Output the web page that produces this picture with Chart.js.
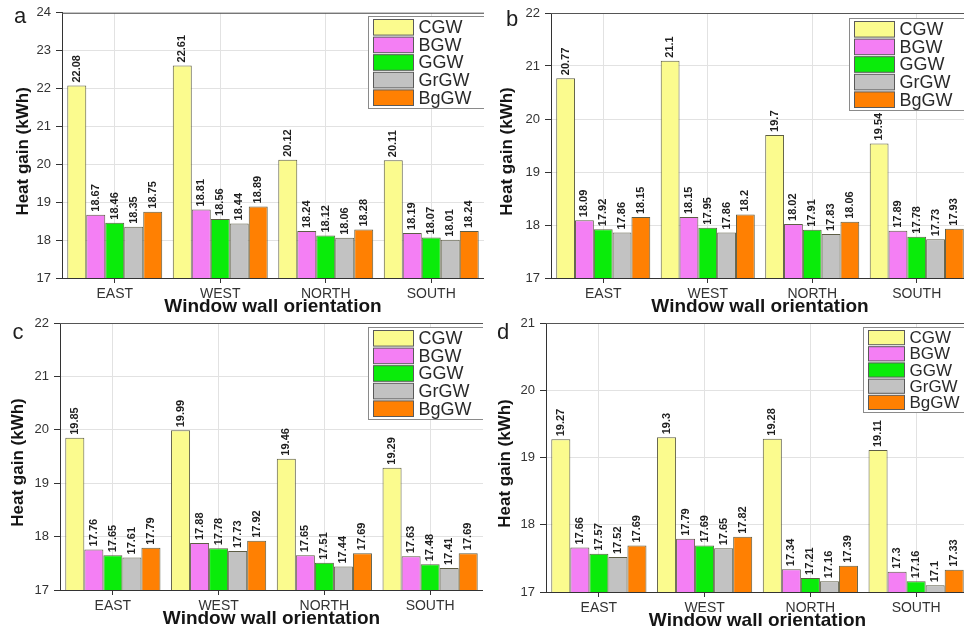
<!DOCTYPE html>
<html>
<head>
<meta charset="utf-8">
<script src="https://cdn.jsdelivr.net/npm/chart.js@4.4.0/dist/chart.umd.min.js"></script>
<style>
  html, body { margin: 0; padding: 0; background: #fff; width: 964px; height: 634px; overflow: hidden; }
  canvas { position: absolute; }
</style>
</head>
<body>
<canvas id="panelA" width="484" height="318" style="left:0px;top:0px"></canvas>
<canvas id="panelB" width="485" height="318" style="left:484px;top:0px"></canvas>
<canvas id="panelC" width="483" height="326" style="left:0px;top:308px"></canvas>
<canvas id="panelD" width="485" height="326" style="left:484px;top:308px"></canvas>
<script>
// Window wall orientations and glazing types
const orientations = ['EAST', 'WEST', 'NORTH', 'SOUTH'];
const glazingTypes = ['CGW', 'BGW', 'GGW', 'GrGW', 'BgGW'];

// Heat gain (kWh), panel a
const aCGW  = [22.08, 22.61, 20.12, 20.11];
const aBGW  = [18.67, 18.81, 18.24, 18.19];
const aGGW  = [18.46, 18.56, 18.12, 18.07];
const aGrGW = [18.35, 18.44, 18.06, 18.01];
const aBgGW = [18.75, 18.89, 18.28, 18.24];

// Heat gain (kWh), panel b
const bCGW  = [20.77, 21.1, 19.7, 19.54];
const bBGW  = [18.09, 18.15, 18.02, 17.89];
const bGGW  = [17.92, 17.95, 17.91, 17.78];
const bGrGW = [17.86, 17.86, 17.83, 17.73];
const bBgGW = [18.15, 18.2, 18.06, 17.93];

// Heat gain (kWh), panel c
const cCGW  = [19.85, 19.99, 19.46, 19.29];
const cBGW  = [17.76, 17.88, 17.65, 17.63];
const cGGW  = [17.65, 17.78, 17.51, 17.48];
const cGrGW = [17.61, 17.73, 17.44, 17.41];
const cBgGW = [17.79, 17.92, 17.69, 17.69];

// Heat gain (kWh), panel d
const dCGW  = [19.27, 19.3, 19.28, 19.11];
const dBGW  = [17.66, 17.79, 17.34, 17.3];
const dGGW  = [17.57, 17.69, 17.21, 17.16];
const dGrGW = [17.52, 17.65, 17.16, 17.1];
const dBgGW = [17.69, 17.82, 17.39, 17.33];

// Y-axis ranges (min, max) of each panel
const rangeA = [17, 24];
const rangeB = [17, 22];
const rangeC = [17, 22];
const rangeD = [17, 21];

const yAxisTitle = 'Heat gain (kWh)';
const xAxisTitle = 'Window wall orientation';

const barColors = ['#fbfb8e', '#f47ff4', '#0aec0a', '#c2c2c2', '#ff8002'];
const FONT = "'Liberation Sans', Arial, Helvetica, sans-serif";

// Draws value labels, the frame top line, the y title, the boxed legend and the panel letter
const panelDecor = {
  id: 'panelDecor',
  afterDatasetsDraw(chart) {
    const ctx = chart.ctx;
    ctx.save();
    ctx.font = 'bold 11px ' + FONT;
    ctx.fillStyle = '#1e1e1e';
    ctx.textAlign = 'left';
    ctx.textBaseline = 'middle';
    chart.data.datasets.forEach((ds, i) => {
      chart.getDatasetMeta(i).data.forEach((bar, j) => {
        ctx.save();
        ctx.translate(bar.x, bar.y - 3);
        ctx.rotate(-Math.PI / 2);
        ctx.fillText(String(ds.data[j]), 0, 0);
        ctx.restore();
      });
    });
    ctx.restore();
  },
  afterDraw(chart, args, opts) {
    const ctx = chart.ctx;
    const area = chart.chartArea;
    ctx.save();
    // top frame line
    ctx.strokeStyle = '#555';
    ctx.lineWidth = 1;
    ctx.beginPath();
    ctx.moveTo(area.left, area.top + 0.5);
    ctx.lineTo(area.right, area.top + 0.5);
    ctx.stroke();

    // y-axis title, sitting slightly below the middle of the axis
    ctx.save();
    ctx.font = 'bold 17px ' + FONT;
    ctx.fillStyle = '#151515';
    ctx.textAlign = 'center';
    ctx.textBaseline = 'middle';
    ctx.translate(opts.yTitleX, (area.top + area.bottom) / 2 + 6);
    ctx.rotate(-Math.PI / 2);
    ctx.fillText(yAxisTitle, 0, 0);
    ctx.restore();

    // legend box
    const lg = opts.legend;
    const left = Math.round(area.right - lg.w) + 0.5;
    const top = Math.round(area.top + lg.dy) + 0.5;
    const n = chart.data.datasets.length;
    const h = n * lg.row + 4;
    ctx.fillStyle = '#fff';
    ctx.fillRect(left, top, lg.w + 4, h);
    ctx.strokeStyle = '#8a8a8a';
    ctx.strokeRect(left, top, lg.w + 4, h);
    ctx.font = lg.font + 'px ' + FONT;
    ctx.textAlign = 'left';
    ctx.textBaseline = 'middle';
    chart.data.datasets.forEach((ds, i) => {
      const y = top + 2 + i * lg.row;
      ctx.fillStyle = ds.backgroundColor;
      ctx.fillRect(left + 5, y + 1, lg.sw, lg.row - 2);
      ctx.strokeStyle = '#5a5a5a';
      ctx.strokeRect(left + 5, y + 1, lg.sw, lg.row - 2);
      ctx.fillStyle = '#2a2a2a';
      ctx.fillText(ds.label, left + 5 + lg.sw + 5, y + lg.row / 2 + 1);
    });

    // panel letter
    ctx.font = '22px ' + FONT;
    ctx.fillStyle = '#1e1e1e';
    ctx.textAlign = 'center';
    ctx.textBaseline = 'middle';
    ctx.fillText(opts.letter, opts.letterX, opts.letterY);
    ctx.restore();
  }
};

function buildPanel(id, series, range, layout) {
  const datasets = series.map((values, i) => ({
    label: glazingTypes[i],
    data: values,
    backgroundColor: barColors[i],
    borderColor: '#5d5d45',
    borderWidth: 1,
    borderSkipped: 'bottom',
    categoryPercentage: 0.9,
    barPercentage: 1.0
  }));
  return new Chart(document.getElementById(id), {
    type: 'bar',
    data: { labels: orientations, datasets },
    plugins: [panelDecor],
    options: {
      responsive: false,
      animation: false,
      devicePixelRatio: 1,
      layout: { padding: { top: layout.padTop, left: 0, right: 0, bottom: 0 } },
      plugins: {
        legend: { display: false },
        tooltip: { enabled: false },
        panelDecor: {
          legend: layout.legend, letter: layout.letter,
          letterX: layout.letterX, letterY: layout.letterY, yTitleX: layout.yTitleX
        }
      },
      scales: {
        x: {
          offset: true,
          grid: { offset: false, color: '#e2e2e2', tickColor: '#333', tickLength: 5 },
          border: { color: '#333', width: 1 },
          ticks: { color: '#333', font: { size: 14, family: FONT }, padding: 3, maxRotation: 0 },
          title: {
            display: true, text: xAxisTitle, color: '#151515',
            font: { size: 19, weight: 'bold', family: FONT }, padding: { top: 0, bottom: layout.titlePad }
          },
          afterFit(scale) { scale.height = layout.xH; }
        },
        y: {
          min: range[0], max: range[1],
          ticks: { stepSize: 1, color: '#333', font: { size: 13, family: FONT }, padding: 5 },
          grid: { color: '#e2e2e2', tickColor: '#333', tickLength: 6 },
          border: { color: '#333', width: 1 },
          title: { display: false },
          afterFit(scale) { scale.width = layout.yW; }
        }
      }
    }
  });
}

buildPanel('panelA', [aCGW, aBGW, aGGW, aGrGW, aBgGW], rangeA, {
  padTop: 12, xH: 40, yW: 62, titlePad: 0, yTitleX: 23,
  letter: 'a', letterX: 20, letterY: 17,
  legend: { w: 116, dy: 3, row: 17.6, sw: 40, font: 18 }
});
buildPanel('panelB', [bCGW, bBGW, bGGW, bGrGW, bBgGW], rangeB, {
  padTop: 13, xH: 40, yW: 67, titlePad: 0, yTitleX: 23,
  letter: 'b', letterX: 28, letterY: 20,
  legend: { w: 120, dy: 5, row: 17.6, sw: 40, font: 18 }
});
buildPanel('panelC', [cCGW, cBGW, cGGW, cGrGW, cBgGW], rangeC, {
  padTop: 15, xH: 44, yW: 60, titlePad: 4, yTitleX: 18,
  letter: 'c', letterX: 18, letterY: 25,
  legend: { w: 115, dy: 4, row: 17.6, sw: 40, font: 18 }
});
buildPanel('panelD', [dCGW, dBGW, dGGW, dGrGW, dBgGW], rangeD, {
  padTop: 15, xH: 42, yW: 62, titlePad: 2, yTitleX: 21,
  letter: 'd', letterX: 19, letterY: 25,
  legend: { w: 106, dy: 4, row: 16.2, sw: 36, font: 17 }
});
</script>
</body>
</html>
